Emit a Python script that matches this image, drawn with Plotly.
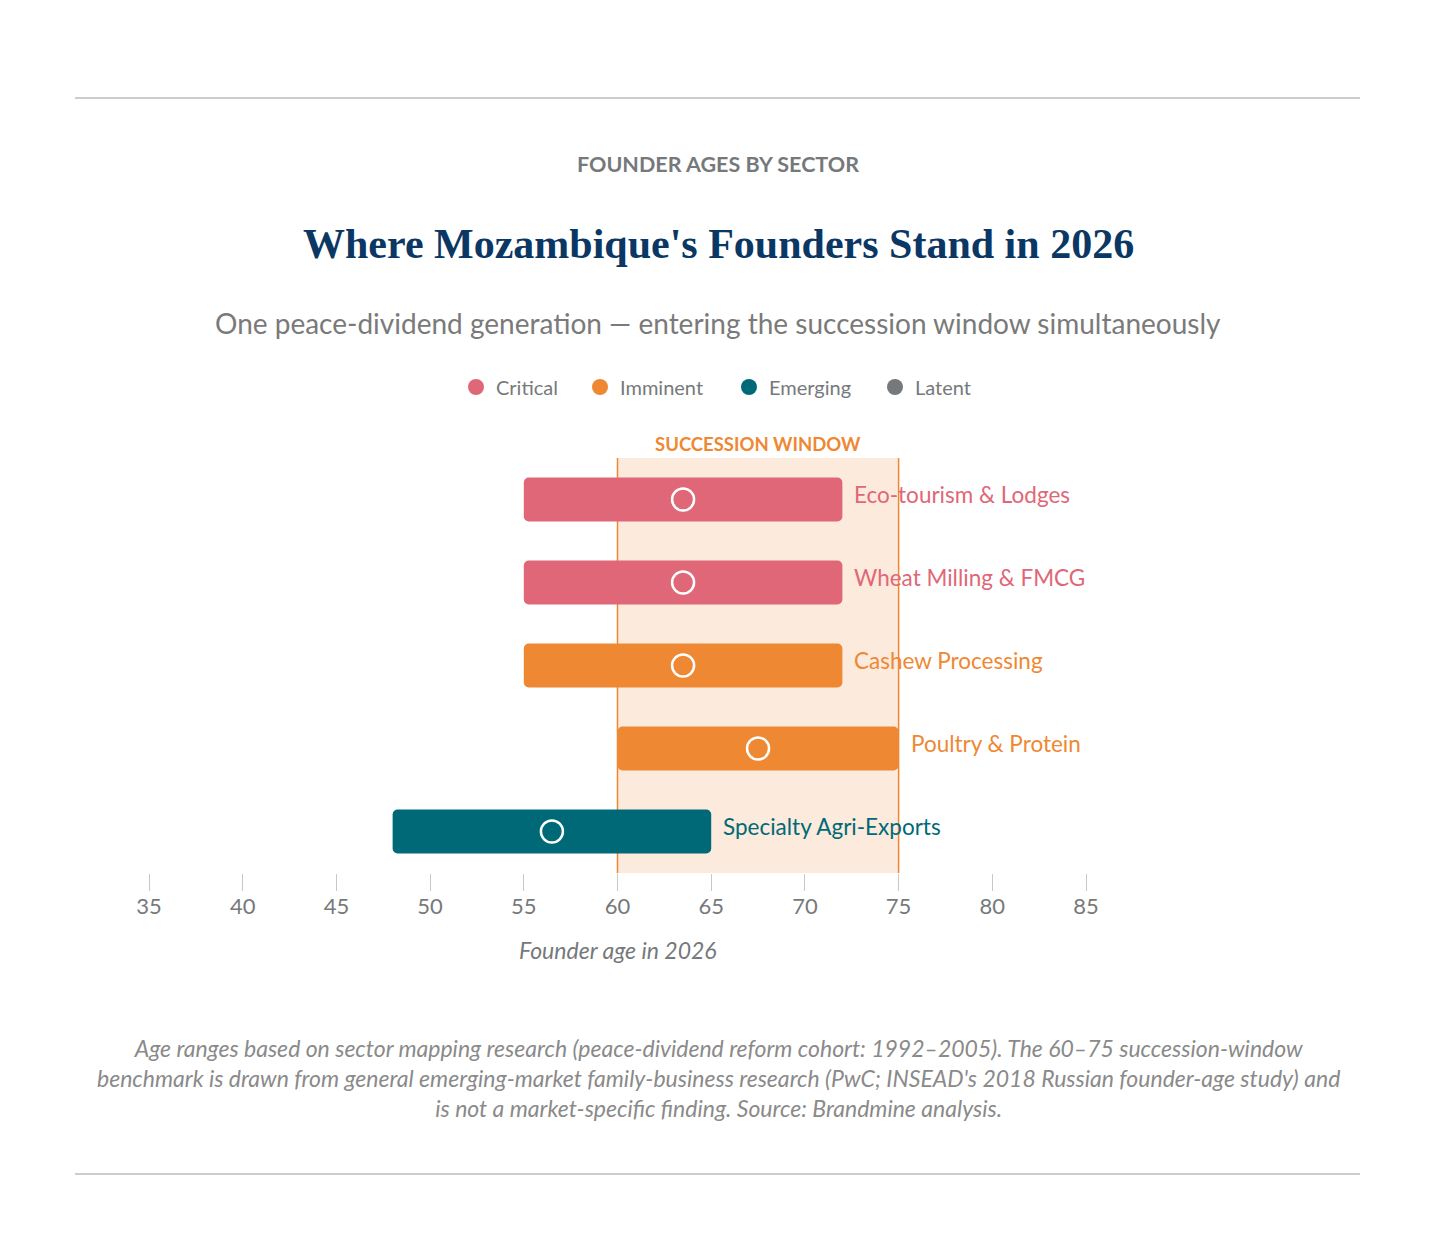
import plotly.graph_objects as go

# ---- data ----
sectors = ["Eco-tourism & Lodges", "Wheat Milling & FMCG", "Cashew Processing",
           "Poultry & Protein", "Specialty Agri-Exports"]
age_low = [55, 55, 55, 60, 48]
age_high = [72, 72, 72, 75, 65]
age_mid = [63.5, 63.5, 63.5, 67.5, 56.5]
status = ["Critical", "Critical", "Imminent", "Imminent", "Emerging"]
status_names = ["Critical", "Imminent", "Emerging", "Latent"]
status_colors = {"Critical": "#E06777", "Imminent": "#EE8833",
                 "Emerging": "#006977", "Latent": "#76797B"}
window = [60, 75]
tick_vals = [35, 40, 45, 50, 55, 60, 65, 70, 75, 80, 85]

W, H = 1436, 1257
SANS = "Source Sans Pro, Lato, Noto Sans, sans-serif"
SERIF = "Source Serif Pro, Liberation Serif, serif"
GRAY = "#76797B"


def px(x):
    return x / W


def py(y):
    return 1 - y / H


fig = go.Figure()

bar_colors = [status_colors[s] for s in status]
fig.add_trace(go.Bar(
    y=sectors, x=[h - l for l, h in zip(age_low, age_high)], base=age_low,
    orientation="h", width=0.53,
    marker=dict(color=bar_colors, line=dict(width=0), cornerradius=5),
    showlegend=False, hoverinfo="skip"))

fig.add_trace(go.Scatter(
    y=sectors, x=age_mid, mode="markers",
    marker=dict(symbol="circle-open", size=22, color="white",
                line=dict(color="white", width=2.5)),
    showlegend=False, hoverinfo="skip"))

# legend entries, one small legend each, placed at the reference positions
legend_circle_x = [476, 600, 749, 895]
legend_layouts = {}
for i, s in enumerate(status_names):
    lid = "legend" if i == 0 else f"legend{i + 1}"
    fig.add_trace(go.Scatter(
        x=[None], y=[None], mode="markers", name=s, legend=lid,
        marker=dict(symbol="circle", size=20, color=status_colors[s])))
    legend_layouts[lid] = dict(
        orientation="h", x=px(legend_circle_x[i] - 20), xanchor="left",
        y=py(387), yanchor="middle", font=dict(family=SANS, size=20, color=GRAY),
        itemsizing="trace", bgcolor="rgba(0,0,0,0)", borderwidth=0)

# succession window
fig.add_shape(type="rect", xref="x", yref="y domain", x0=window[0], x1=window[1],
              y0=0, y1=1, fillcolor="#FCEADD", line=dict(width=0), layer="below")
for v in window:
    fig.add_shape(type="line", xref="x", yref="y domain", x0=v, x1=v, y0=0, y1=1,
                  line=dict(color="#EE8833", width=1.5), layer="below")

ann = []
ann.append(dict(text="SUCCESSION WINDOW", xref="x", yref="paper",
                x=sum(window) / 2, y=py(444), xanchor="center", yanchor="middle",
                showarrow=False, font=dict(family=SANS, size=18.5, color="#EE8833",
                                           weight="bold")))
for s, hi, st in zip(sectors, age_high, status):
    ann.append(dict(text=s, x=hi, y=s, xref="x", yref="y", xanchor="left",
                    yanchor="middle", xshift=10, yshift=5, showarrow=False,
                    font=dict(family=SANS, size=22.5, color=status_colors[st])))

ann.append(dict(text="FOUNDER AGES BY SECTOR", xref="paper", yref="paper",
                x=px(718), y=py(164), xanchor="center", yanchor="middle",
                showarrow=False,
                font=dict(family=SANS, size=21.5, color=GRAY, weight="bold")))
ann.append(dict(text="Where Mozambique's Founders Stand in 2026", xref="paper",
                yref="paper", x=px(718), y=py(244), xanchor="center",
                yanchor="middle", showarrow=False,
                font=dict(family=SERIF, size=42, color="#0A3763", weight="bold")))
ann.append(dict(text="One peace-dividend generation \u2014 entering the succession window simultaneously",
                xref="paper", yref="paper", x=px(718), y=py(323), xanchor="center",
                yanchor="middle", showarrow=False,
                font=dict(family=SANS, size=28, color="#7A7A7A")))
ann.append(dict(text="Founder age in 2026", xref="paper", yref="paper",
                x=px(618), y=py(950), xanchor="center", yanchor="middle",
                showarrow=False,
                font=dict(family=SANS, size=23, color=GRAY, style="italic")))
ann.append(dict(text=("Age ranges based on sector mapping research (peace-dividend reform cohort: 1992\u20132005). "
                      "The 60\u201375 succession-window<br>benchmark is drawn from general emerging-market "
                      "family-business research (PwC; INSEAD's 2018 Russian founder-age study) and<br>"
                      "is not a market-specific finding. Source: Brandmine analysis."),
                xref="paper", yref="paper", x=px(718), y=py(1078), xanchor="center",
                yanchor="middle", showarrow=False, align="center",
                font=dict(family=SANS, size=23, color="#8A8A8A", style="italic")))

for yy in (98, 1174):
    fig.add_shape(type="line", xref="paper", yref="paper", x0=px(75), x1=px(1360),
                  y0=py(yy), y1=py(yy), line=dict(color="#BDBDBD", width=1.5))

fig.update_layout(
    width=W, height=H, margin=dict(l=0, r=0, t=0, b=0, autoexpand=False),
    paper_bgcolor="white", plot_bgcolor="white",
    annotations=ann, barmode="overlay",
    showlegend=True,
    xaxis=dict(domain=[px(149), px(1086)], range=[35, 85], tickvals=tick_vals,
               showgrid=False, zeroline=False, showline=False, automargin=False,
               ticks="outside", ticklen=17, tickcolor="#C8C8C8", tickwidth=1,
               ticklabelstandoff=-3,
               tickfont=dict(family=SANS, size=22, color=GRAY)),
    yaxis=dict(domain=[py(873), py(458)], categoryorder="array", automargin=False,
               categoryarray=sectors, range=[4.5, -0.5], showticklabels=False,
               showgrid=False, zeroline=False, showline=False),
    **legend_layouts,
)

fig.write_html("out.html")
